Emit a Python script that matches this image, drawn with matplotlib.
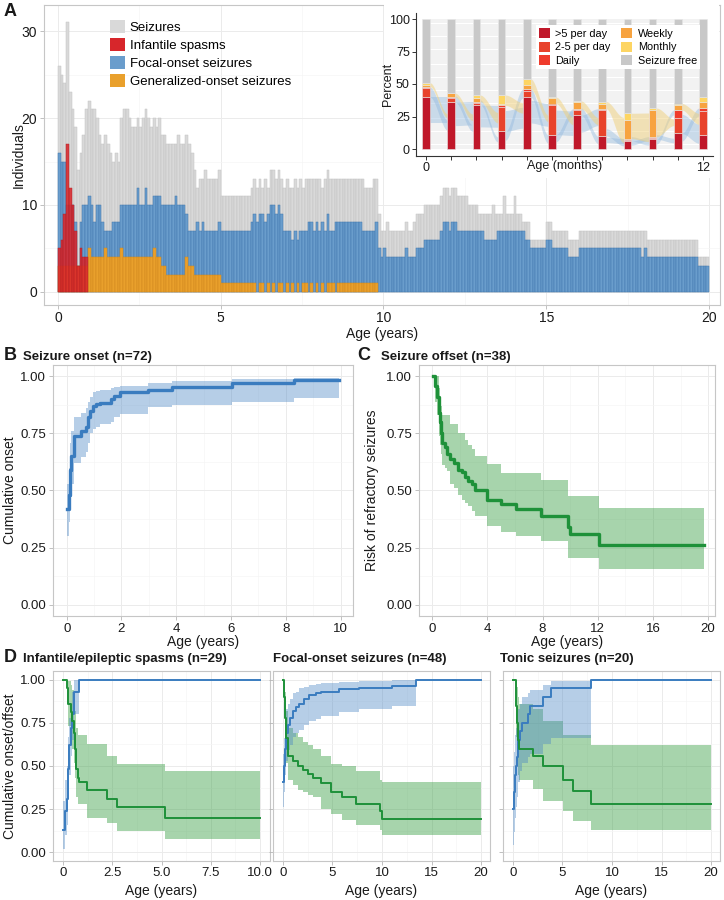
import numpy as np
import matplotlib.pyplot as plt
from matplotlib.patches import Patch

plt.rcParams['font.family'] = ['Liberation Sans', 'DejaVu Sans']

W, H = 724, 900
fig = plt.figure(figsize=(W / 100, H / 100), dpi=100)


def px(l, t, r, b):
    # pixel box (left, top, right, bottom) -> figure fraction
    return [l / W, 1 - b / H, (r - l) / W, (b - t) / H]


def ftext(x, y, s, **kw):
    fig.text(x / W, 1 - y / H, s, zorder=20, **kw)


TXT = '#1a1a1a'

# ---------------- A: individuals with seizures per month of age ----------------
seizures = [26, 25, 24, 31, 23, 21, 19, 14, 16, 18, 21, 22, 21, 21, 20, 18, 17, 18, 17, 16,
            15, 16, 15, 20, 21, 21, 20, 19, 19, 20, 19, 20, 21, 20, 19, 20, 19, 20, 18, 18,
            17, 17, 17, 17, 18, 17, 17, 18, 17, 16, 14, 12, 13, 13, 14, 13, 13, 13, 13, 14,
            11, 11, 11, 11, 11, 11, 11, 11, 11, 11, 11, 12, 13, 12, 13, 12, 13, 12, 14, 14,
            13, 14, 13, 12, 13, 12, 12, 13, 12, 13, 12, 13, 13, 13, 13, 13, 13, 12, 13, 14,
            13, 13, 13, 13, 13, 13, 13, 13, 13, 13, 13, 13, 13, 12, 12, 12, 13, 13, 9, 7,
            7, 8, 7, 7, 7, 7, 7, 7, 8, 7, 7, 8, 9, 9, 9, 10, 10, 10, 10, 10,
            10, 11, 12, 12, 11, 12, 12, 11, 11, 11, 11, 10, 10, 10, 10, 9, 9, 9, 9, 9,
            10, 9, 9, 9, 11, 9, 9, 9, 11, 9, 9, 8, 8, 8, 6, 6, 6, 6, 6, 6,
            8, 8, 7, 7, 7, 7, 7, 7, 6, 6, 6, 6, 7, 7, 7, 7, 7, 7, 7, 7,
            7, 7, 7, 7, 7, 7, 7, 7, 7, 7, 7, 7, 7, 7, 7, 7, 7, 6, 6, 6,
            6, 6, 6, 6, 6, 6, 6, 6, 6, 6, 6, 6, 6, 6, 6, 6, 4, 4, 4, 4]
focal = [16, 15, 15, 10, 10, 10, 8, 3, 8, 10, 10, 11, 10, 8, 10, 10, 8, 7, 7, 7,
         8, 8, 8, 10, 10, 10, 10, 10, 10, 12, 10, 10, 12, 10, 10, 11, 11, 11, 10, 10,
         10, 10, 10, 11, 10, 10, 10, 9, 7, 7, 7, 8, 7, 8, 7, 7, 7, 7, 7, 8,
         7, 7, 7, 7, 7, 7, 7, 7, 7, 7, 7, 8, 9, 8, 9, 9, 8, 9, 10, 10,
         9, 10, 9, 7, 7, 7, 6, 7, 6, 7, 7, 7, 8, 8, 7, 8, 7, 8, 7, 9,
         7, 7, 8, 8, 8, 8, 8, 8, 8, 8, 8, 8, 7, 7, 7, 7, 7, 8, 5, 4,
         5, 4, 4, 4, 4, 4, 4, 4, 5, 4, 4, 4, 5, 5, 5, 6, 6, 6, 6, 6,
         6, 7, 8, 8, 7, 8, 8, 7, 7, 7, 7, 7, 7, 7, 7, 7, 7, 6, 6, 6,
         6, 6, 7, 7, 7, 7, 7, 7, 7, 7, 7, 7, 6, 6, 5, 5, 5, 5, 5, 5,
         6, 6, 5, 5, 5, 5, 5, 5, 4, 4, 4, 4, 5, 5, 5, 5, 5, 5, 5, 5,
         5, 5, 5, 5, 5, 5, 5, 5, 5, 5, 5, 5, 5, 5, 5, 4, 5, 4, 4, 4,
         4, 4, 4, 4, 4, 4, 4, 4, 4, 4, 4, 4, 4, 4, 4, 4, 3, 3, 3, 3]
generalized = [3, 3, 3, 3, 3, 3, 3, 3, 3, 3, 3, 5, 4, 4, 4, 4, 4, 5, 4, 4,
               4, 4, 4, 5, 4, 4, 4, 4, 4, 4, 4, 4, 4, 4, 4, 5, 4, 4, 3, 3,
               2, 2, 2, 2, 2, 2, 2, 4, 3, 3, 2, 2, 2, 2, 2, 2, 2, 2, 2, 2,
               1, 1, 1, 1, 1, 1, 1, 1, 1, 1, 1, 1, 1, 0, 1, 1, 0, 1, 0, 1,
               0, 1, 1, 0, 1, 0, 1, 0, 1, 0, 1, 1, 0, 1, 0, 1, 0, 1, 0, 1,
               1, 1, 0, 1, 1, 1, 1, 1, 1, 1, 1, 1, 1, 1, 1, 1, 1, 1]
spasms = [5, 6, 9, 17, 12, 10, 7, 3, 5, 4, 4]

a_legend = ['Seizures', 'Infantile spasms', 'Focal-onset seizures', 'Generalized-onset seizures']
a_colors = ['#d9d9d9', '#d7262b', '#6a9dcc', '#e9a02c']
a_edges = ['#c2c2c2', '#b01d22', '#3f76ad', '#cf871c']

# ---------------- A inset: seizure frequency in the first year ----------------
freq_names = ['>5 per day', '2-5 per day', 'Daily', 'Weekly', 'Monthly', 'Seizure free']
freq_colors = ['#c0182a', '#e8432c', '#ef3b2c', '#f7a340', '#fdd563', '#c8c8c8']
gt5 = [40, 36, 34, 13.5, 40, 11, 26, 10, 6, 7.5, 12, 11]
two5 = [7, 3, 1.5, 19, 5, 23, 4, 20, 1, 1, 11.5, 18]
daily = [1, 1, 1, 1, 1, 1, 1, 1, 1, 1, 6.5, 2.5]
weekly = [1, 3, 3, 1, 3.5, 4, 5, 4, 14.5, 20.5, 4, 5]
monthly = [2, 0, 2, 7, 4.5, 1, 1, 1.5, 5, 1.5, 1, 3.5]
free = [49, 57, 58.5, 58.5, 46, 60, 63, 63.5, 72.5, 68.5, 65, 60]
inset_ticks = ['0', '', '', '', '', '', '', '', '', '', '', '12']

# ---------------- B: seizure onset (Kaplan-Meier) ----------------
b_t = [0.0, 0.07, 0.11, 0.17, 0.25, 0.53, 0.69, 0.78, 0.86, 0.96, 1.08, 1.2, 1.62, 1.72, 1.93, 2.95, 3.86, 6.05, 8.3, 9.93]
b_s = [0.42, 0.48, 0.59, 0.65, 0.74, 0.76, 0.78, 0.82, 0.85, 0.87, 0.88, 0.885, 0.90, 0.915, 0.93, 0.94, 0.955, 0.97, 0.985, 0.985]
b_lo = [0.30, 0.36, 0.47, 0.53, 0.62, 0.645, 0.67, 0.71, 0.75, 0.77, 0.78, 0.79, 0.80, 0.82, 0.835, 0.865, 0.875, 0.89, 0.905, 0.905]
b_hi = [0.53, 0.60, 0.71, 0.76, 0.82, 0.84, 0.86, 0.89, 0.91, 0.93, 0.935, 0.94, 0.95, 0.955, 0.96, 0.97, 0.98, 0.99, 0.995, 0.995]

# ---------------- C: seizure offset ----------------
c_t = [0.05, 0.24, 0.36, 0.48, 0.55, 0.64, 0.71, 0.9, 1.07, 1.31, 1.62, 1.9, 2.14, 2.38, 2.62, 2.9, 3.14, 4.0, 5.0, 6.07, 7.86, 9.88, 10.0, 12.1, 19.7]
c_s = [1.0, 0.96, 0.91, 0.84, 0.80, 0.75, 0.71, 0.69, 0.66, 0.64, 0.62, 0.59, 0.58, 0.56, 0.54, 0.53, 0.50, 0.46, 0.44, 0.42, 0.39, 0.34, 0.31, 0.26, 0.26]
c_hi = [1.0, 1.0, 1.0, 0.95, 0.91, 0.87, 0.83, 0.83, 0.83, 0.79, 0.79, 0.75, 0.75, 0.72, 0.70, 0.68, 0.65, 0.615, 0.575, 0.575, 0.548, 0.478, 0.478, 0.425, 0.425]
c_lo = [1.0, 0.89, 0.83, 0.74, 0.70, 0.66, 0.61, 0.60, 0.585, 0.53, 0.51, 0.48, 0.46, 0.445, 0.43, 0.41, 0.39, 0.345, 0.32, 0.30, 0.28, 0.205, 0.205, 0.155, 0.155]

# ---------------- D: onset (blue) / offset (green) by seizure type ----------------
d1_on_t = [0.03, 0.12, 0.2, 0.27, 0.33, 0.4, 0.47, 0.55, 0.83, 10.0]
d1_on_s = [0.13, 0.24, 0.31, 0.48, 0.62, 0.72, 0.80, 0.93, 1.0, 1.0]
d1_on_lo = [0.02, 0.10, 0.16, 0.31, 0.45, 0.56, 0.65, 0.80, 1.0, 1.0]
d1_on_hi = [0.30, 0.42, 0.50, 0.67, 0.78, 0.86, 0.93, 1.0, 1.0, 1.0]
d1_off_t = [0.0, 0.2, 0.26, 0.42, 0.46, 0.55, 0.63, 0.66, 0.77, 0.83, 1.22, 2.24, 2.76, 5.17, 10.0]
d1_off_s = [1.0, 0.95, 0.86, 0.81, 0.76, 0.69, 0.60, 0.48, 0.43, 0.41, 0.36, 0.31, 0.26, 0.20, 0.20]
d1_off_hi = [1.0, 1.0, 0.99, 0.97, 0.94, 0.89, 0.82, 0.72, 0.68, 0.68, 0.63, 0.56, 0.51, 0.47, 0.47]
d1_off_lo = [1.0, 0.86, 0.73, 0.66, 0.60, 0.52, 0.43, 0.32, 0.28, 0.28, 0.20, 0.17, 0.125, 0.077, 0.077]

d2_on_t = [0.02, 0.1, 0.2, 0.33, 0.5, 0.67, 1.0, 1.33, 1.67, 2.17, 2.67, 3.33, 3.83, 5.67, 7.67, 11.0, 13.4, 20.0]
d2_on_s = [0.41, 0.50, 0.60, 0.69, 0.74, 0.78, 0.82, 0.84, 0.86, 0.89, 0.91, 0.92, 0.93, 0.945, 0.95, 0.965, 1.0, 1.0]
d2_on_lo = [0.26, 0.35, 0.45, 0.53, 0.59, 0.62, 0.67, 0.69, 0.71, 0.74, 0.76, 0.77, 0.79, 0.815, 0.83, 0.85, 1.0, 1.0]
d2_on_hi = [0.57, 0.66, 0.75, 0.83, 0.86, 0.89, 0.92, 0.93, 0.95, 0.96, 0.97, 0.975, 0.98, 0.985, 0.99, 1.0, 1.0, 1.0]
d2_off_t = [0.0, 0.1, 0.2, 0.33, 0.5, 1.0, 1.5, 2.0, 2.5, 3.0, 3.83, 4.83, 6.0, 7.4, 9.8, 10.05, 20.0]
d2_off_s = [1.0, 0.90, 0.78, 0.66, 0.56, 0.53, 0.50, 0.475, 0.455, 0.43, 0.40, 0.35, 0.32, 0.28, 0.24, 0.195, 0.195]
d2_off_hi = [1.0, 0.99, 0.93, 0.82, 0.72, 0.69, 0.67, 0.64, 0.62, 0.60, 0.56, 0.51, 0.50, 0.47, 0.42, 0.41, 0.41]
d2_off_lo = [1.0, 0.80, 0.64, 0.52, 0.42, 0.39, 0.36, 0.35, 0.33, 0.32, 0.25, 0.22, 0.19, 0.16, 0.13, 0.10, 0.10]

d3_on_t = [0.02, 0.1, 0.2, 0.3, 0.4, 0.52, 0.67, 0.94, 1.5, 1.68, 3.0, 3.87, 7.9, 20.0]
d3_on_s = [0.25, 0.35, 0.45, 0.50, 0.55, 0.65, 0.70, 0.75, 0.80, 0.85, 0.90, 0.95, 1.0, 1.0]
d3_on_lo = [0.04, 0.12, 0.20, 0.26, 0.32, 0.41, 0.47, 0.52, 0.55, 0.57, 0.63, 0.66, 1.0, 1.0]
d3_on_hi = [0.50, 0.58, 0.68, 0.72, 0.76, 0.83, 0.86, 0.90, 0.92, 0.94, 0.97, 0.99, 1.0, 1.0]
d3_off_t = [0.0, 0.27, 0.3, 0.35, 0.4, 0.45, 0.5, 0.55, 0.62, 2.0, 3.0, 5.05, 6.06, 7.9, 20.0]
d3_off_s = [1.0, 0.95, 0.90, 0.85, 0.80, 0.75, 0.70, 0.65, 0.60, 0.56, 0.50, 0.42, 0.355, 0.28, 0.28]
d3_off_hi = [1.0, 1.0, 1.0, 1.0, 0.98, 0.96, 0.93, 0.90, 0.86, 0.83, 0.76, 0.68, 0.68, 0.62, 0.62]
d3_off_lo = [1.0, 0.85, 0.76, 0.67, 0.60, 0.53, 0.49, 0.45, 0.42, 0.365, 0.30, 0.24, 0.18, 0.13, 0.13]

BLUE, BLUE_F = '#3a7cbf', '#4a86c5'
GREEN, GREEN_F = '#1e9139', '#3ca048'


def light_style(ax, xlim, ylim, xmaj, xmin, ymaj, ymin, size=9.5):
    ax.set_xlim(xlim)
    ax.set_ylim(ylim)
    ax.set_xticks(xmaj)
    ax.set_xticks(xmin, minor=True)
    ax.set_yticks(ymaj)
    ax.set_yticks(ymin, minor=True)
    ax.grid(True, which='major', color='#ebebeb', lw=0.7)
    ax.grid(True, which='minor', color='#f5f5f5', lw=0.5)
    ax.set_axisbelow(True)
    for sp in ax.spines.values():
        sp.set_color('#c6c6c6')
        sp.set_linewidth(0.8)
    ax.tick_params(which='major', length=3, width=0.6, color='#b5b5b5',
                   labelsize=size, labelcolor=TXT, pad=2)
    ax.tick_params(which='minor', length=0)


# ================= panel A =================
axA = fig.add_axes(px(44, 5, 720, 305))
light_style(axA, (-0.43, 20.34), (-1.5, 33), [0, 5, 10, 15, 20], [2.5, 7.5, 12.5, 17.5],
            [0, 10, 20, 30], [5, 15, 25], size=10)
axA.tick_params(axis='x', pad=1.5)


def month_bars(vals, fc, ec, alpha=1.0, z=2):
    v = np.array(vals, float)
    k = np.arange(len(v))
    m = v > 0
    axA.bar(k[m] / 12, v[m], width=1 / 12, align='edge', color=fc, edgecolor=ec,
            linewidth=0.35, alpha=alpha, zorder=z)


month_bars(seizures, a_colors[0], a_edges[0], z=2)
month_bars(focal, a_colors[2], a_edges[2], z=3)
month_bars(generalized, a_colors[3], a_edges[3], z=4)
month_bars(spasms, a_colors[1], a_edges[1], alpha=0.88, z=5)

handles = [Patch(facecolor=c, edgecolor='none') for c in a_colors]
axA.legend(handles, a_legend, loc='upper left', bbox_to_anchor=(110 / W, 1 - 20 / H),
           bbox_transform=fig.transFigure, frameon=False, fontsize=9.5,
           handlelength=1.1, handleheight=1.1, labelspacing=0.32, handletextpad=0.4,
           borderpad=0, borderaxespad=0)

ftext(4, 11, 'A', fontsize=13, weight='bold', va='center', color=TXT)
ftext(19, 155, 'Individuals', fontsize=10, rotation=90, ha='center', va='center', color=TXT)
ftext(382, 334, 'Age (years)', fontsize=10, ha='center', va='center', color=TXT)

# white box behind the inset
axW = fig.add_axes(px(384, 0, 719, 178))
axW.set_zorder(5)
axW.set_facecolor('white')
axW.set_xticks([])
axW.set_yticks([])
for sp in axW.spines.values():
    sp.set_visible(False)

# ================= inset =================
axI = fig.add_axes(px(416, 12.5, 713, 155.5))
axI.set_zorder(6)
axI.set_facecolor('white')
stack = np.array([gt5, two5, daily, weekly, monthly, free])
cum = np.cumsum(stack, axis=0)
base = cum - stack
xpos = np.arange(1, len(gt5) + 1)
bw = 0.3

# flows between neighbouring bars
u = np.linspace(0, 1, 30)
sm = u * u * (3 - 2 * u)
for i in range(len(xpos) - 1):
    xa, xb = xpos[i] + bw / 2, xpos[i + 1] - bw / 2
    xs = xa + (xb - xa) * u
    axI.hlines(np.linspace(1, 99, 60), xa, xb, color='#cdcdcd', lw=0.35, zorder=1)
    c0a, c2a, c4a = cum[0, i], cum[2, i], cum[4, i]
    c0b, c2b, c4b = cum[0, i + 1], cum[2, i + 1], cum[4, i + 1]
    # >5 per day moving up, lower-frequency seizures moving down
    w1 = 0.5 * min(c0a, c2b)
    lo = c0a * 0.5 + (c2b - w1 - c0a * 0.5) * sm
    axI.fill_between(xs, lo, lo + w1, color='#8db6dd', alpha=0.4, lw=0, zorder=2)
    w2 = 0.7 * min(c2a - c0a + 3, c2b)
    lo = c0a + (c0b * 0.4 - c0a) * sm
    axI.fill_between(xs, lo, lo + w2, color='#8db6dd', alpha=0.4, lw=0, zorder=2)
    lo = c2a + (c2b * 0.6 - c2a) * sm
    hi = lo + (c4a - c2a) + ((c4b - c2b) - (c4a - c2a)) * sm
    axI.fill_between(xs, lo, hi, color='#f0d07a', alpha=0.5, lw=0, zorder=2)

for j in range(len(freq_names)):
    axI.bar(xpos, stack[j], width=bw, bottom=base[j], color=freq_colors[j],
            edgecolor='#e6e6e6', linewidth=0.4, zorder=3)

axI.set_xlim(0.6, 12.4)
axI.set_ylim(-5, 105)
axI.set_xticks(xpos)
axI.set_xticklabels(inset_ticks)
axI.set_yticks([0, 25, 50, 75, 100])
axI.tick_params(length=3, width=0.7, color='#333333', labelsize=9, labelcolor=TXT, pad=1.5)
for s in ['top', 'right']:
    axI.spines[s].set_visible(False)
for s in ['left', 'bottom']:
    axI.spines[s].set_color('#333333')
    axI.spines[s].set_linewidth(0.8)
fh = [Patch(facecolor=c, edgecolor='none') for c in freq_colors]
leg = axI.legend(fh, freq_names, ncol=2, loc='upper right', bbox_to_anchor=(0.975, 0.95),
                 fontsize=7.8, handlelength=1.0, handleheight=1.0, labelspacing=0.28,
                 columnspacing=1.0, handletextpad=0.5, borderpad=0.3, frameon=True,
                 fancybox=False, edgecolor='none', framealpha=1)
leg.set_zorder(10)
ftext(388, 84, 'Percent', fontsize=9, rotation=90, ha='center', va='center', color=TXT)
ftext(565, 166, 'Age (months)', fontsize=9, ha='center', va='center', color=TXT)


def km(ax, t, s, lo, hi, line, fill, lw, alpha):
    ax.fill_between(t, lo, hi, step='post', color=fill, alpha=alpha, lw=0)
    ax.step(t, s, where='post', color=line, lw=lw)


yt = [0, 0.25, 0.5, 0.75, 1.0]
ymin_ = [0.125, 0.375, 0.625, 0.875]
ylab = ['0.00', '0.25', '0.50', '0.75', '1.00']

# ================= panel B =================
axB = fig.add_axes(px(53, 365, 353, 616))
light_style(axB, (-0.5, 10.45), (-0.05, 1.05), [0, 2, 4, 6, 8, 10], [1, 3, 5, 7, 9], yt, ymin_)
axB.set_yticklabels(ylab)
km(axB, b_t, b_s, b_lo, b_hi, BLUE, BLUE_F, 2.4, 0.4)
ftext(4, 356, 'B', fontsize=13, weight='bold', va='center', color=TXT)
ftext(23, 357, 'Seizure onset (n=72)', fontsize=9.5, weight='bold', va='center', color=TXT)
ftext(10, 490, 'Cumulative onset', fontsize=10, rotation=90, ha='center', va='center', color=TXT)
ftext(203, 642, 'Age (years)', fontsize=10, ha='center', va='center', color=TXT)

# ================= panel C =================
axC = fig.add_axes(px(419, 365, 715, 616))
light_style(axC, (-0.95, 20.5), (-0.05, 1.05), [0, 4, 8, 12, 16, 20], [2, 6, 10, 14, 18], yt, ymin_)
axC.set_yticklabels(ylab)
km(axC, c_t, c_s, c_lo, c_hi, GREEN, GREEN_F, 2.4, 0.45)
ftext(357, 356, 'C', fontsize=13, weight='bold', va='center', color=TXT)
ftext(381, 357, 'Seizure offset (n=38)', fontsize=9.5, weight='bold', va='center', color=TXT)
ftext(372, 490, 'Risk of refractory seizures', fontsize=10, rotation=90, ha='center', va='center', color=TXT)
ftext(567, 642, 'Age (years)', fontsize=10, ha='center', va='center', color=TXT)

# ================= panel D =================
d_boxes = [(53, 270), (273, 490), (503, 720)]
d_titles = ['Infantile/epileptic spasms (n=29)', 'Focal-onset seizures (n=48)', 'Tonic seizures (n=20)']
d_title_x = [23, 273, 500]
d_on = [(d1_on_t, d1_on_s, d1_on_lo, d1_on_hi), (d2_on_t, d2_on_s, d2_on_lo, d2_on_hi),
        (d3_on_t, d3_on_s, d3_on_lo, d3_on_hi)]
d_off = [(d1_off_t, d1_off_s, d1_off_lo, d1_off_hi), (d2_off_t, d2_off_s, d2_off_lo, d2_off_hi),
         (d3_off_t, d3_off_s, d3_off_lo, d3_off_hi)]
for n, (l, r) in enumerate(d_boxes):
    ax = fig.add_axes(px(l, 671, r, 861))
    if n == 0:
        light_style(ax, (-0.5, 10.5), (-0.05, 1.05), [0, 2.5, 5, 7.5, 10], [1.25, 3.75, 6.25, 8.75], yt, ymin_)
        ax.set_xticklabels(['0', '2.5', '5.0', '7.5', '10.0'])
        ax.set_yticklabels(ylab)
    else:
        light_style(ax, (-1, 20.9), (-0.05, 1.05), [0, 5, 10, 15, 20], [2.5, 7.5, 12.5, 17.5], yt, ymin_)
        ax.set_yticklabels([])
    ax.tick_params(axis='x', pad=1.5)
    t, s, lo, hi = d_off[n]
    ax.fill_between(t, lo, hi, step='post', color=GREEN_F, alpha=0.45, lw=0)
    t, s, lo, hi = d_on[n]
    ax.fill_between(t, lo, hi, step='post', color=BLUE_F, alpha=0.4, lw=0)
    ax.step(t, s, where='post', color=BLUE, lw=1.4)
    t, s, lo, hi = d_off[n]
    ax.step(t, s, where='post', color=GREEN, lw=1.4)
    ftext(d_title_x[n], 659, d_titles[n], fontsize=9.5, weight='bold', va='center', color=TXT)
    ftext((l + r) / 2, 891, 'Age (years)', fontsize=10, ha='center', va='center', color=TXT)

ftext(4, 658, 'D', fontsize=13, weight='bold', va='center', color=TXT)
ftext(10, 766, 'Cumulative onset/offset', fontsize=10, rotation=90, ha='center', va='center', color=TXT)

fig.savefig('out.png', dpi=100, facecolor='white')
